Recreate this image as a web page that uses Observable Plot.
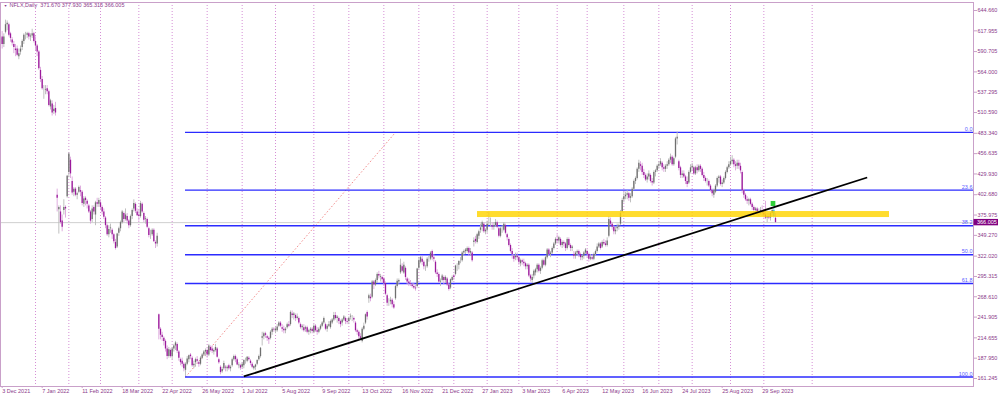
<!DOCTYPE html>
<html><head><meta charset="utf-8">
<script src="https://cdn.jsdelivr.net/npm/d3@7"></script>
<script src="https://cdn.jsdelivr.net/npm/@observablehq/plot@0.6"></script>
<style>
html,body{margin:0;padding:0;background:#fff;}
#chart svg{display:block;}
</style></head><body><div id="chart"></div>
<script>
// ---- data: NFLX daily bars, bar index starts at -1 (2 Dec 2021) ----
const firstBar = -1;
const open = [
600,610,600,616,626,626,614,606,600,594,594,584,590,596,604,612,612,614,610,611,614,
604,598,590,566,554,540,540,542,538,518,522,512,516,402,383,380,368,382,386,400,
432,448,420,406,410,402,406,408,406,390,398,394,388,380,370,386,376,392,390,
392,386,380,372,362,350,358,356,350,340,334,352,358,366,378,370,374,368,362,374,384,390,380,
376,374,390,378,370,370,358,350,350,356,340,338,245,226,218,214,210,200,190,198,
190,200,204,206,196,186,184,180,172,180,186,192,188,178,182,186,182,180,188,192,196,
198,192,202,200,196,198,200,186,176,170,174,176,174,178,174,178,186,190,186,178,178,
176,178,184,184,188,184,180,174,176,180,186,190,214,216,220,216,214,214,222,226,
224,224,230,234,228,226,224,228,232,232,246,244,244,240,240,232,228,228,226,228,222,224,226,
222,230,224,222,226,230,234,232,226,230,228,234,238,244,240,240,236,234,238,240,236,
236,242,240,240,234,224,222,216,210,226,234,248,266,268,268,288,284,290,298,294,294,
292,286,270,262,262,264,258,266,282,288,300,308,300,306,292,288,286,284,282,280,282,
306,314,318,314,306,308,318,318,328,320,314,300,298,288,290,294,290,292,284,280,290,
296,298,308,310,316,316,326,328,328,332,326,326,340,344,340,348,356,360,364,354,
356,366,364,362,360,362,366,358,348,356,356,362,350,344,336,328,322,320,322,
320,312,316,314,312,308,310,296,290,296,300,304,310,302,306,316,310,320,330,324,326,332,338,
344,342,344,336,340,338,332,344,336,332,324,322,326,328,324,320,322,326,
328,324,318,320,318,324,328,334,338,334,340,338,336,348,368,364,360,354,358,360,364,380,
396,400,402,404,398,400,410,420,424,436,442,440,432,428,422,426,428,420,418,432,434,
440,442,444,438,436,440,442,448,452,442,452,476,446,438,428,430,426,420,418,432,
438,438,430,438,434,440,436,428,424,420,420,414,408,402,406,414,424,426,416,418,424,432,438,
442,446,448,442,440,444,440,432,408,402,396,394,396,390,386,382,384,378,380,382,
378,376,372,374,372,378,382,371.67
];
const high = [
612,617,614,632,631,628,616,609,604,600,598,594,598,606,614,616,616,616,614,620,616,
610,600,592,570,558,546,546,546,540,528,526,520,524,410,388,388,376,396,388,428,
458,452,426,412,412,406,414,414,408,400,400,396,390,382,388,388,394,398,398,
396,388,384,374,364,362,364,358,352,344,352,360,368,382,380,384,378,370,376,384,396,392,384,
382,394,392,380,374,372,360,356,358,358,342,352,246,228,222,216,212,204,202,200,
202,206,210,208,198,188,188,182,182,190,192,194,190,184,188,190,184,190,194,198,200,
200,206,204,204,200,206,202,188,178,176,184,178,178,180,178,188,192,192,188,182,180,
182,186,188,190,190,186,182,178,180,186,192,202,222,222,222,218,216,224,228,228,
228,232,236,236,232,230,228,234,236,250,250,248,246,246,242,234,232,232,230,230,226,228,228,
232,232,228,228,232,236,242,234,232,236,238,240,248,248,244,242,238,240,244,242,240,
242,246,244,242,236,226,224,220,228,234,246,250,272,272,290,290,292,300,302,298,296,
294,288,272,266,268,266,262,284,292,292,318,312,314,308,294,292,290,286,286,284,306,
320,322,322,316,310,320,322,328,330,324,316,304,300,292,298,296,296,294,286,292,296,
298,310,312,316,320,328,330,332,334,334,332,328,346,348,352,356,364,368,366,358,
368,380,372,366,366,370,368,360,360,362,366,364,352,346,338,332,324,326,326,
322,318,318,318,314,312,312,298,298,304,306,312,312,308,318,318,322,332,332,328,334,340,346,
350,348,346,342,342,340,346,346,338,336,328,328,330,330,326,324,328,332,
330,326,324,324,326,330,338,340,340,342,344,342,346,374,372,366,362,360,364,364,382,398,
406,406,408,406,404,412,422,426,438,448,446,444,436,430,430,434,430,424,434,436,442,
446,450,446,442,442,446,450,456,454,452,478,485,448,440,434,434,428,426,434,442,
444,440,440,442,442,442,438,432,426,424,422,416,410,410,416,426,428,428,422,426,434,440,446,
452,454,450,446,448,448,444,434,410,404,400,398,398,392,388,386,386,384,386,388,
382,394,378,378,380,384,390,377.93
];
const low = [
594,594,596,614,618,610,603,598,588,584,584,580,586,592,600,606,608,606,604,608,602,
592,584,566,550,540,528,534,534,518,514,506,508,506,380,351,364,354,376,372,398,
425,424,402,400,400,396,404,400,388,386,388,384,378,364,366,376,362,386,386,
382,376,370,358,348,346,352,344,338,330,332,348,354,364,366,368,364,358,360,370,380,378,374,
368,372,378,366,364,358,346,344,348,340,332,334,212,212,210,204,196,186,188,188,
186,196,198,194,184,178,176,170,164,178,182,186,176,174,176,180,176,178,186,190,190,
188,190,196,194,192,196,188,180,166,168,172,170,170,172,170,176,184,182,178,174,172,
174,174,180,182,184,178,174,172,172,178,184,188,204,212,214,210,206,212,218,222,
220,222,228,228,222,220,220,226,228,230,240,238,236,238,232,226,224,222,222,220,218,220,220,
220,222,218,220,224,228,232,224,222,228,226,232,236,238,234,232,228,230,236,232,232,
232,238,236,234,222,218,212,212,208,224,232,238,260,262,266,278,282,286,292,288,286,
282,270,256,256,258,254,252,264,280,284,298,300,298,290,284,282,282,280,278,276,280,
304,312,310,304,302,306,314,316,316,314,298,294,286,282,288,284,286,282,276,278,288,
290,296,302,304,312,314,322,324,326,322,322,314,334,338,338,344,352,354,352,350,
352,362,360,356,356,360,358,346,346,352,354,350,342,334,326,318,314,316,316,
310,308,310,308,304,304,294,288,286,292,296,300,300,298,304,308,308,318,322,320,324,330,336,
338,338,334,332,334,328,330,334,328,328,318,318,322,320,316,316,318,324,
320,314,316,316,316,322,326,332,330,332,336,334,334,346,362,356,350,350,354,356,362,378,
392,396,396,394,392,398,408,416,422,432,434,428,424,420,418,422,418,414,416,426,432,
436,440,434,432,432,436,440,444,440,440,450,468,434,424,424,424,416,412,416,430,
434,428,428,430,432,432,426,420,418,414,412,406,400,398,404,412,418,414,412,416,422,430,436,
440,442,438,434,436,436,430,404,398,394,390,388,388,382,378,378,376,374,376,374,
372,370,366,370,368,374,372,365.315
];
const close = [
608,600,610,626,628,612,608,602,596,592,586,588,594,604,612,612,614,610,611,614,604,
598,590,568,554,542,540,541,538,520,526,510,515,510,398,386,366,360,386,384,427,
456,430,405,410,402,404,412,406,391,397,395,390,380,368,384,380,392,390,395,
386,380,373,362,350,357,359,350,341,332,351,358,366,380,370,376,368,362,374,382,391,381,375,
374,391,380,369,371,360,349,350,356,341,338,348,226,218,215,210,200,190,199,190,
200,204,208,197,188,182,180,174,180,187,191,190,178,180,186,184,180,188,192,196,198,
192,204,198,197,198,202,189,182,169,173,181,175,176,174,176,186,190,186,179,179,175,
180,185,184,189,186,181,176,177,179,185,190,201,216,220,218,214,212,222,226,225,
226,229,234,230,226,224,226,232,230,248,244,246,240,242,234,228,230,224,228,222,224,226,223,
230,224,222,226,230,234,240,226,230,232,236,238,244,240,242,236,232,238,242,236,235,
240,243,240,238,224,222,216,214,226,230,245,242,270,266,288,284,290,298,296,295,291,
286,272,260,262,264,258,254,282,289,290,310,302,310,294,288,286,285,282,280,279,305,
316,320,314,308,306,318,318,326,320,318,300,298,288,289,296,290,294,284,278,291,294,
294,309,308,315,316,326,328,330,332,326,328,316,342,341,350,354,359,366,354,356,
364,366,364,360,362,366,360,348,358,356,364,352,346,336,328,324,318,322,320,
314,316,314,312,308,310,296,292,294,302,304,310,302,306,316,310,320,330,324,326,332,338,344,
342,346,336,340,338,332,344,336,332,334,322,326,328,324,320,322,326,330,
324,318,320,318,324,328,334,338,332,340,338,336,342,370,364,360,354,356,360,362,378,395,
400,402,404,398,400,410,420,424,436,444,440,432,428,422,426,430,420,418,432,434,440,
442,446,438,436,440,442,448,452,442,450,476,478,437,428,430,426,420,416,432,438,
440,430,438,434,440,436,428,424,420,420,414,408,404,408,414,424,426,416,418,424,432,438,442,
446,448,442,440,444,440,434,408,402,396,394,396,390,386,382,384,378,380,382,378,
376,372,374,372,378,382,374,366.005
];
const highlightBar = 463;

// ---- axes ----
const priceTicks = [644.660, 617.955, 590.705, 564.000, 537.295, 510.590, 483.340, 456.635, 429.930,
  402.680, 375.975, 349.270, 322.020, 295.315, 268.610, 241.905, 214.655, 187.950, 161.245];
const dateLabels = ["3 Dec 2021", "7 Jan 2022", "11 Feb 2022", "18 Mar 2022", "22 Apr 2022", "26 May 2022",
  "1 Jul 2022", "5 Aug 2022", "9 Sep 2022", "13 Oct 2022", "16 Nov 2022", "21 Dec 2022", "27 Jan 2023",
  "3 Mar 2023", "6 Apr 2023", "12 May 2023", "16 Jun 2023", "24 Jul 2023", "25 Aug 2023", "29 Sep 2023"];
const dateLabelStep = 24;
const monthStarts = [20, 40, 59, 82, 102, 123, 144, 164, 187, 208, 229, 250, 271, 291, 310, 333, 351, 373, 394, 414, 437, 457, 486];

// ---- drawn objects ----
const fibAnchors = [{bar: 110, price: 163.2}, {bar: 236, price: 484.6}];
const fibLevels = [0, 23.6, 38.2, 50, 61.8, 100];
const fibLabels = ["0.0", "23.6", "38.2", "50.0", "61.8", "100.0"];
const trendLine = [{bar: 145, price: 163.9}, {bar: 519, price: 425.3}];
const zone = [{bar1: 285.2, bar2: 532.4, low: 372.7, high: 380.6}];
const marker = [{bar1: 461.4, bar2: 464.2, low: 387.2, high: 393.8}];
const lastPrice = 366.005;
const headerText = "NFLX,Daily  371.670 377.930 365.315 366.005";

// ---- build ----
const bars = open.map((o, k) => ({i: k + firstBar, o, h: high[k], l: low[k], c: close[k]}));
const fibHi = fibAnchors[1].price, fibLo = fibAnchors[0].price;
const fibRows = fibLevels.map((lv, k) => ({price: fibHi - (fibHi - fibLo) * lv / 100, label: fibLabels[k]}));
const labelBars = dateLabels.map((_, k) => k * dateLabelStep);

const xDomain = [-1, 582.8];
const yDomain = [150.74, 655.17];
const purpleText = "#8b3a8b";
const frameCol = "#c9a0c9";
const FONT = 5.5;

const wickColor = d => d.i === highlightBar ? "#7fd6ee" : (d.c >= d.o ? "#b9b9b9" : "#dba4db");
const bodyColor = d => d.i === highlightBar ? "#2fb8e0" : (d.c >= d.o ? "#6f6f6f" : "#9b1a9b");

const chart = Plot.plot({
  width: 1000, height: 396,
  marginLeft: 0, marginRight: 27, marginTop: 2, marginBottom: 10,
  x: {domain: xDomain, axis: null},
  y: {domain: yDomain, axis: null},
  style: {fontFamily: "'Liberation Sans', Arial, sans-serif", background: "#fff", overflow: "visible"},
  marks: [
    Plot.ruleX(monthStarts, {x: d => d, stroke: "#d58ed5", strokeDasharray: "1,2", strokeWidth: 1}),
    Plot.ruleY([lastPrice], {y: d => d, stroke: "#cfcfcf", strokeWidth: 1}),
    Plot.link([fibAnchors], {x1: d => d[0].bar, y1: d => d[0].price, x2: d => d[1].bar, y2: d => d[1].price,
      stroke: "#f28a8a", strokeDasharray: "1.5,2", strokeWidth: 1}),
    Plot.ruleY(fibRows, {y: "price", x1: () => fibAnchors[0].bar, x2: () => xDomain[1], stroke: "#2b2bff", strokeWidth: 1.4}),
    Plot.text(fibRows, {x: () => xDomain[1], y: "price", text: "label", textAnchor: "end", lineAnchor: "bottom",
      dx: -1, dy: -1.5, fontSize: FONT, fill: "#5a5aff"}),
    Plot.ruleX(bars, {x: "i", y1: "l", y2: "h", stroke: wickColor, strokeWidth: 0.9}),
    Plot.ruleX(bars, {x: "i", y1: "o", y2: "c", stroke: bodyColor, strokeWidth: 1.3}),
    Plot.rect(zone, {x1: "bar1", x2: "bar2", y1: "low", y2: "high", fill: "#ffd400", fillOpacity: 0.82}),
    Plot.rect(marker, {x1: "bar1", x2: "bar2", y1: "low", y2: "high", fill: "#2fcf3a"}),
    Plot.link([trendLine], {x1: d => d[0].bar, y1: d => d[0].price, x2: d => d[1].bar, y2: d => d[1].price,
      stroke: "#000", strokeWidth: 1.8}),
    Plot.frame({stroke: frameCol}),
    Plot.axisY({ticks: priceTicks, anchor: "right", tickSize: 3, tickPadding: 1, tickFormat: d => d.toFixed(3),
      fontSize: FONT, stroke: frameCol, fill: purpleText}),
    Plot.axisX({ticks: labelBars, anchor: "bottom", tickSize: 2, tickPadding: 0.5, textAnchor: "start",
      tickFormat: i => dateLabels[i / dateLabelStep], fontSize: FONT, stroke: frameCol, fill: purpleText}),
    Plot.rect([lastPrice], {x1: () => xDomain[1], x2: () => xDomain[1], y1: d => d, y2: d => d,
      insetLeft: 0.5, insetRight: -25, insetTop: -3.2, insetBottom: -3.2, fill: "#800080"}),
    Plot.text([lastPrice], {x: () => xDomain[1], y: d => d, text: d => d.toFixed(3), textAnchor: "start",
      dx: 3.5, fontSize: FONT, fill: "#fff"}),
    Plot.text(["\u25BC"], {frameAnchor: "top-left", text: d => d, dx: 3.2, dy: 1.6, lineAnchor: "top",
      fontSize: 3.6, fill: purpleText}),
    Plot.text([headerText], {frameAnchor: "top-left", text: d => d, dx: 9, dy: 0.8, lineAnchor: "top",
      fontSize: FONT, fill: purpleText})
  ]
});
document.getElementById("chart").appendChild(chart);
</script></body></html>
